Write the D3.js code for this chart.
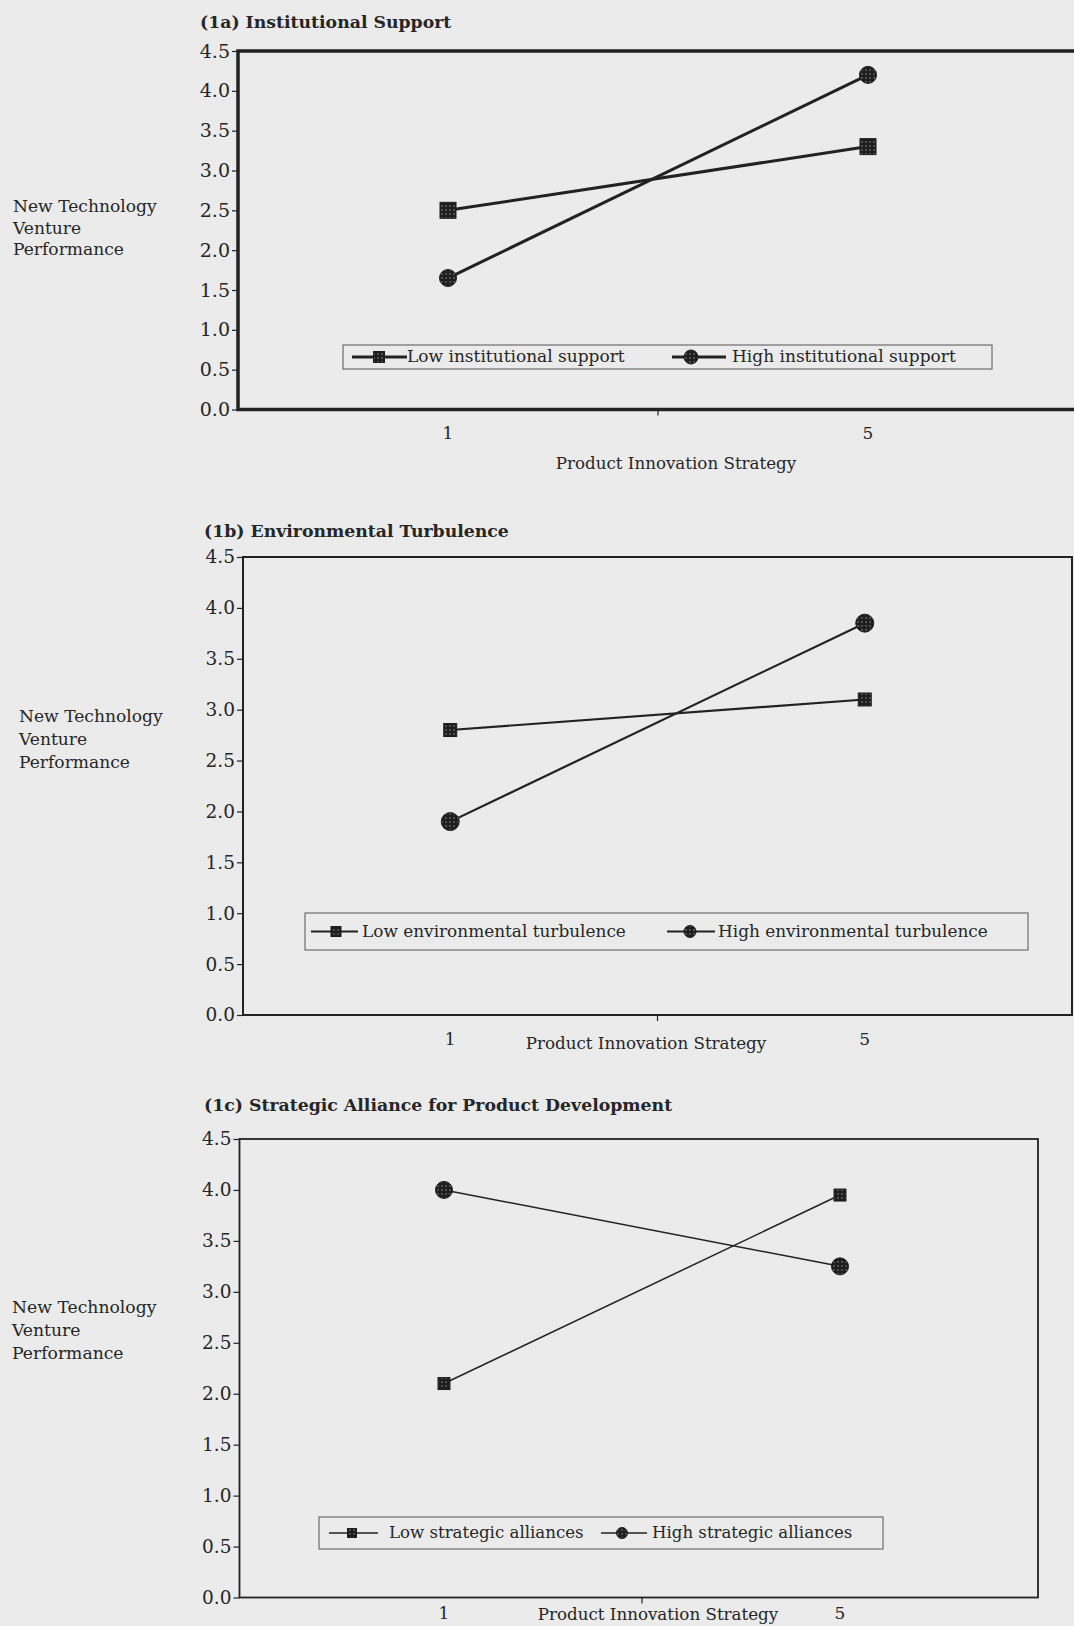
<!DOCTYPE html>
<html><head><meta charset="utf-8">
<script src="https://cdn.jsdelivr.net/npm/d3@7"></script>
<style>
html,body{margin:0;padding:0;background:#ebebeb;}
svg{display:block;}
text{font-family:"DejaVu Serif",serif;fill:#262626;}
</style>
</head><body><svg id="chart" width="1074" height="1626"></svg>
<script>
// ---- data ----
const categories = ["1", "5"];
const yTickValues = [0, 0.5, 1, 1.5, 2, 2.5, 3, 3.5, 4, 4.5];
const panelTitles = ["(1a) Institutional Support", "(1b) Environmental Turbulence", "(1c) Strategic Alliance for Product Development"];
const yAxisTitle = ["New Technology", "Venture", "Performance"];
const xAxisTitle = "Product Innovation Strategy";
const lowNames = ["Low institutional support", "Low environmental turbulence", "Low strategic alliances"];
const highNames = ["High institutional support", "High environmental turbulence", "High strategic alliances"];
const lowValues = [[2.5, 3.3], [2.8, 3.1], [2.1, 3.95]];
const highValues = [[1.65, 4.2], [1.9, 3.85], [4.0, 3.25]];

// ---- layout / style ----
const layouts = [
  {left:238, right:1078, xRange:[238,1078], top:51, bottom:409.5, titleX:200, titleY:28, yLabX:13, yLabY:[212,234,255],
   tickFont:19, labFont:17.1, xLabY:440, xFont:17, xTitleX:676, xTitleY:469, lw:3, frameW:3.5, sq:16, r:8.5,
   legend:{x0:343,x1:992,y0:345,y1:369, lowLine:[352,407], lowMark:379, lowText:407, highLine:[672,726], highMark:691, highText:732, base:362, font:17, sq:11, r:7, lw:3}},
  {left:243, right:1072, xRange:[243,1072], top:557, bottom:1015, titleX:204, titleY:537, yLabX:19, yLabY:[722,745,768],
   tickFont:18.5, labFont:17.1, xLabY:1046, xFont:17, xTitleX:646, xTitleY:1049, lw:2.2, frameW:2, sq:13, r:9,
   legend:{x0:305,x1:1028,y0:913,y1:950, lowLine:[311,358], lowMark:336, lowText:362, highLine:[667,715], highMark:690, highText:718, base:937, font:16.9, sq:10, r:6, lw:1.8}},
  {left:239.5, right:1038, xRange:[246,1038], top:1139, bottom:1597.5, titleX:204, titleY:1111, yLabX:12, yLabY:[1313,1336,1359],
   tickFont:18.5, labFont:17.2, xLabY:1620, xFont:17, xTitleX:658, xTitleY:1620, lw:1.5, frameW:1.8, sq:12, r:8.5,
   legend:{x0:319,x1:883,y0:1517,y1:1549, lowLine:[329,378], lowMark:352, lowText:389, highLine:[601,647], highMark:622, highText:652, base:1538, font:16.6, sq:9, r:5.5, lw:1.3}}
];
const ink = "#222";

const svg = d3.select("#chart");
svg.append("rect").attr("width",1074).attr("height",1626).attr("fill","#ebebeb");

const defs = svg.append("defs");
const pat = defs.append("pattern").attr("id","speckle").attr("patternUnits","userSpaceOnUse")
  .attr("width",4).attr("height",4);
pat.append("rect").attr("width",4).attr("height",4).attr("fill","#1e1e1e");
pat.append("circle").attr("cx",2).attr("cy",2).attr("r",0.8).attr("fill","#8a8a8a");

function square(g, cx, cy, s){
  g.append("rect").attr("x",cx-s/2).attr("y",cy-s/2).attr("width",s).attr("height",s)
    .attr("fill","url(#speckle)").attr("stroke","#1e1e1e").attr("stroke-width",1);
}
function dot(g, cx, cy, r){
  g.append("circle").attr("cx",cx).attr("cy",cy).attr("r",r)
    .attr("fill","url(#speckle)").attr("stroke","#1e1e1e").attr("stroke-width",1);
}

layouts.forEach((L, i) => {
  const g = svg.append("g");
  const x = d3.scaleBand().domain(categories).range(L.xRange);
  const xc = c => x(c) + x.bandwidth()/2;
  const y = d3.scaleLinear().domain([0, 4.5]).range([L.bottom, L.top]);

  // title
  g.append("text").attr("x",L.titleX).attr("y",L.titleY).attr("font-weight","bold")
    .attr("font-size",17.3).attr("fill","#1e1e1e").text(panelTitles[i]);

  // y axis title
  yAxisTitle.forEach((t,k) => g.append("text").attr("x",L.yLabX).attr("y",L.yLabY[k])
    .attr("font-size",L.labFont).text(t));

  // frame
  g.append("rect").attr("x",L.left).attr("y",L.top).attr("width",L.right-L.left).attr("height",L.bottom-L.top)
    .attr("fill","none").attr("stroke",ink).attr("stroke-width",L.frameW);

  // y axis
  const ya = g.append("g").attr("transform",`translate(${L.left},0)`)
    .call(d3.axisLeft(y).tickValues(yTickValues).tickFormat(d3.format(".1f")).tickSize(6).tickPadding(2));
  ya.select(".domain").remove();
  ya.selectAll("line").attr("stroke",ink).attr("stroke-width",1.2);
  ya.selectAll("text").attr("font-size",L.tickFont).attr("font-family","DejaVu Serif").attr("fill","#262626");

  // x axis: category labels at centres, tick at category boundary
  const xa = g.append("g").attr("transform",`translate(0,${L.bottom})`)
    .call(d3.axisBottom(x).tickSize(0).tickPadding(L.xLabY - L.bottom - L.xFont*0.75));
  xa.select(".domain").remove();
  xa.selectAll("text").attr("font-size",L.xFont).attr("font-family","DejaVu Serif").attr("fill","#262626");
  g.append("line").attr("x1",x(categories[1])).attr("x2",x(categories[1]))
    .attr("y1",L.bottom).attr("y2",L.bottom+6).attr("stroke",ink).attr("stroke-width",1.2);

  g.append("text").attr("x",L.xTitleX).attr("y",L.xTitleY).attr("text-anchor","middle")
    .attr("font-size",16.7).text(xAxisTitle);

  // lines
  const line = d3.line().x((d,k) => xc(categories[k])).y(d => y(d));
  [lowValues[i], highValues[i]].forEach(vals => {
    g.append("path").datum(vals).attr("d",line).attr("fill","none")
      .attr("stroke",ink).attr("stroke-width",L.lw);
  });
  lowValues[i].forEach((v,k) => square(g, xc(categories[k]), y(v), L.sq));
  highValues[i].forEach((v,k) => dot(g, xc(categories[k]), y(v), L.r));

  // legend
  const Lg = L.legend;
  g.append("rect").attr("x",Lg.x0).attr("y",Lg.y0).attr("width",Lg.x1-Lg.x0).attr("height",Lg.y1-Lg.y0)
    .attr("fill","none").attr("stroke","#555").attr("stroke-width",1);
  const my = (Lg.y0+Lg.y1)/2;
  g.append("line").attr("x1",Lg.lowLine[0]).attr("x2",Lg.lowLine[1]).attr("y1",my).attr("y2",my)
    .attr("stroke",ink).attr("stroke-width",Lg.lw);
  square(g, Lg.lowMark, my, Lg.sq);
  g.append("text").attr("x",Lg.lowText).attr("y",Lg.base).attr("font-size",Lg.font).text(lowNames[i]);
  g.append("line").attr("x1",Lg.highLine[0]).attr("x2",Lg.highLine[1]).attr("y1",my).attr("y2",my)
    .attr("stroke",ink).attr("stroke-width",Lg.lw);
  dot(g, Lg.highMark, my, Lg.r);
  g.append("text").attr("x",Lg.highText).attr("y",Lg.base).attr("font-size",Lg.font).text(highNames[i]);
});
</script>
</body></html>
